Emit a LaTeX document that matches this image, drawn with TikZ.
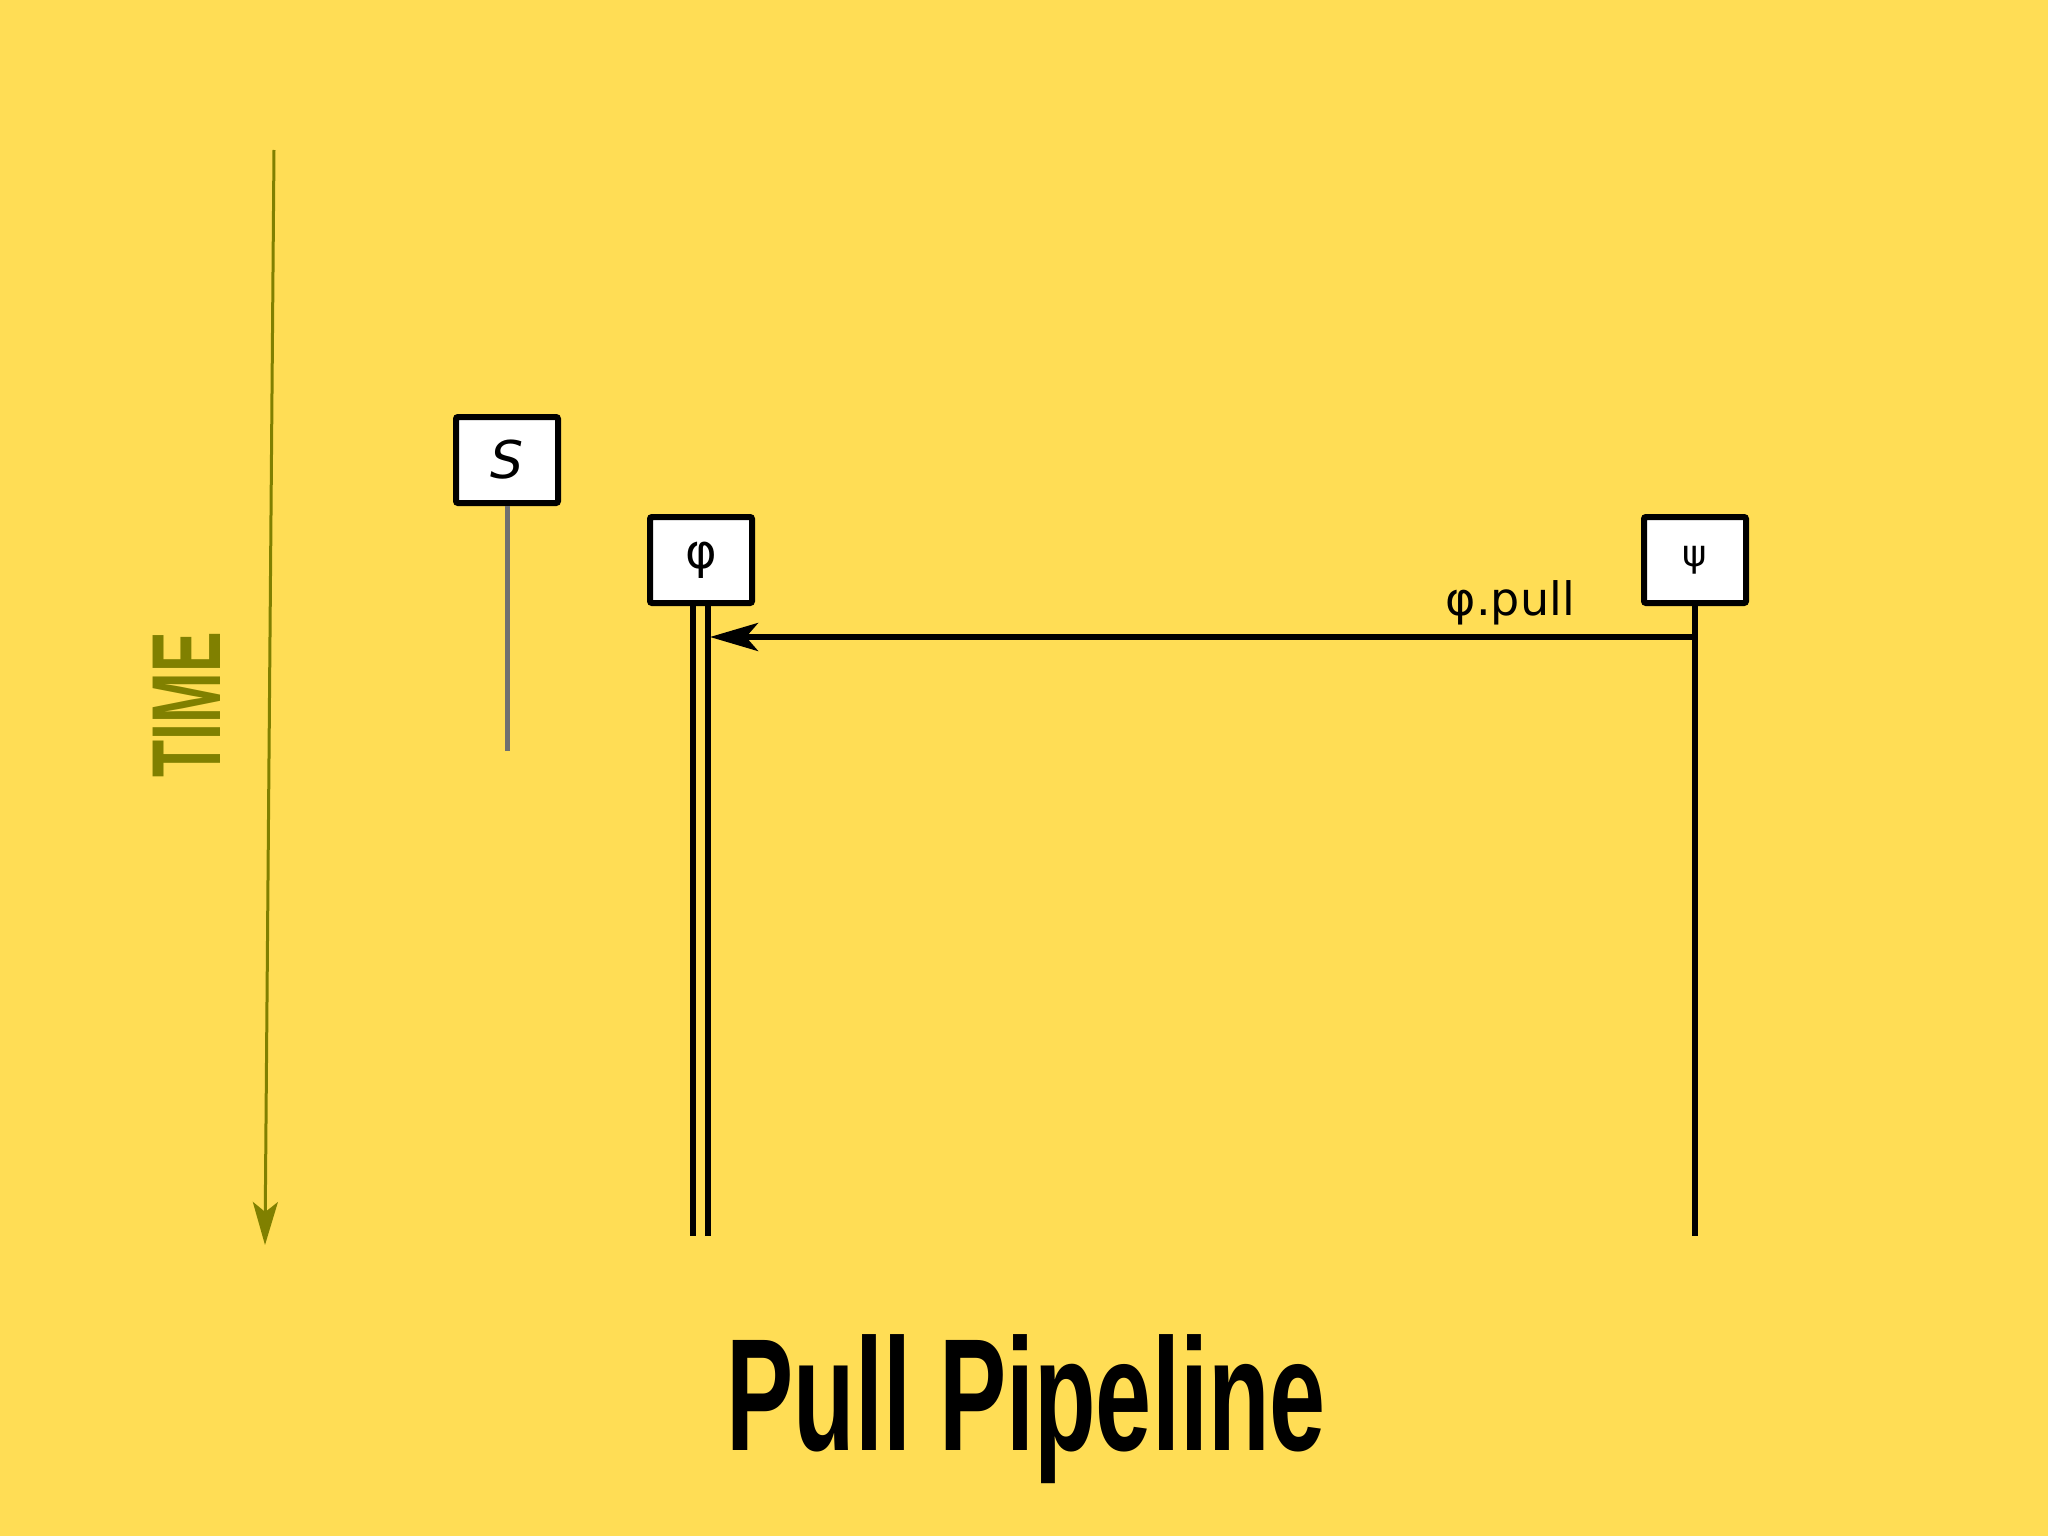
\documentclass[tikz,border=0pt]{standalone}
\usepackage{fontspec}
\setmainfont{DejaVu Sans}
\newfontfamily\titlefont{Liberation Sans}
\usetikzlibrary{arrows.meta}
\definecolor{bgcol}{HTML}{FFDD55}
\definecolor{timecol}{HTML}{808000}
\definecolor{lifegray}{HTML}{707070}
\tikzset{
  actor/.style={draw=black, line width=6pt, fill=white, rounded corners=2pt,
    minimum width=102pt, minimum height=86pt, inner sep=0pt},
  lifeline/.style={draw=black, line width=6pt},
  msg/.style={draw=black, line width=5.5pt, -{Stealth[length=48pt,width=28pt,inset=12pt]}},
}
\begin{document}
\begin{tikzpicture}[x=1pt,y=-1pt]
\fill[bgcol] (0,0) rectangle (2048,1536);
\useasboundingbox (0,0) rectangle (2048,1536);

% time axis
\coordinate (t0) at (274,150);
\coordinate (t1) at (265,1245);
\draw[timecol, line width=3pt, -{Stealth[length=43pt,width=25pt,inset=10pt]}] (t0) -- (t1);
\node[rotate=90, text=timecol, font=\titlefont\bfseries\fontsize{98}{100}\selectfont, inner sep=0pt] (time) at (187,705) {\scalebox{0.62}[1]{TIME}};

% actors
\node[actor] (S) at (507,460) {\fontsize{52}{60}\selectfont\itshape S};
\node[actor] (phi) at (701,560) {\fontsize{48}{56}\selectfont φ};
\node[actor] (psi) at (1695,560) {\fontsize{37}{44}\selectfont ψ};

% lifelines
\coordinate (Send) at (507,751);
\coordinate (phiend) at (701,1236);
\coordinate (psiend) at (1694,1236);
\draw[lifegray, line width=5pt] (S.south) -- (Send);
\draw[lifeline] ([xshift=-8pt]phi.south) -- ([xshift=-8pt]phiend);
\draw[lifeline] ([xshift=7pt]phi.south) -- ([xshift=7pt]phiend);
\draw[lifeline] (psi.south) -- (psi.south |- psiend);

% message
\coordinate (msgstart) at (1694,637);
\coordinate (msgend) at (710,637);
\draw[msg] (msgstart) -- (msgend);
\node[anchor=south east, inner sep=0pt, font=\fontsize{46}{55}\selectfont] (lbl) at (1575,625) {φ.pull};

% title
\node[anchor=base, inner sep=0pt, font=\titlefont\bfseries\fontsize{160}{170}\selectfont] (title) at (1026,1450) {\scalebox{0.63}[1]{Pull Pipeline}};
\end{tikzpicture}
\end{document}
